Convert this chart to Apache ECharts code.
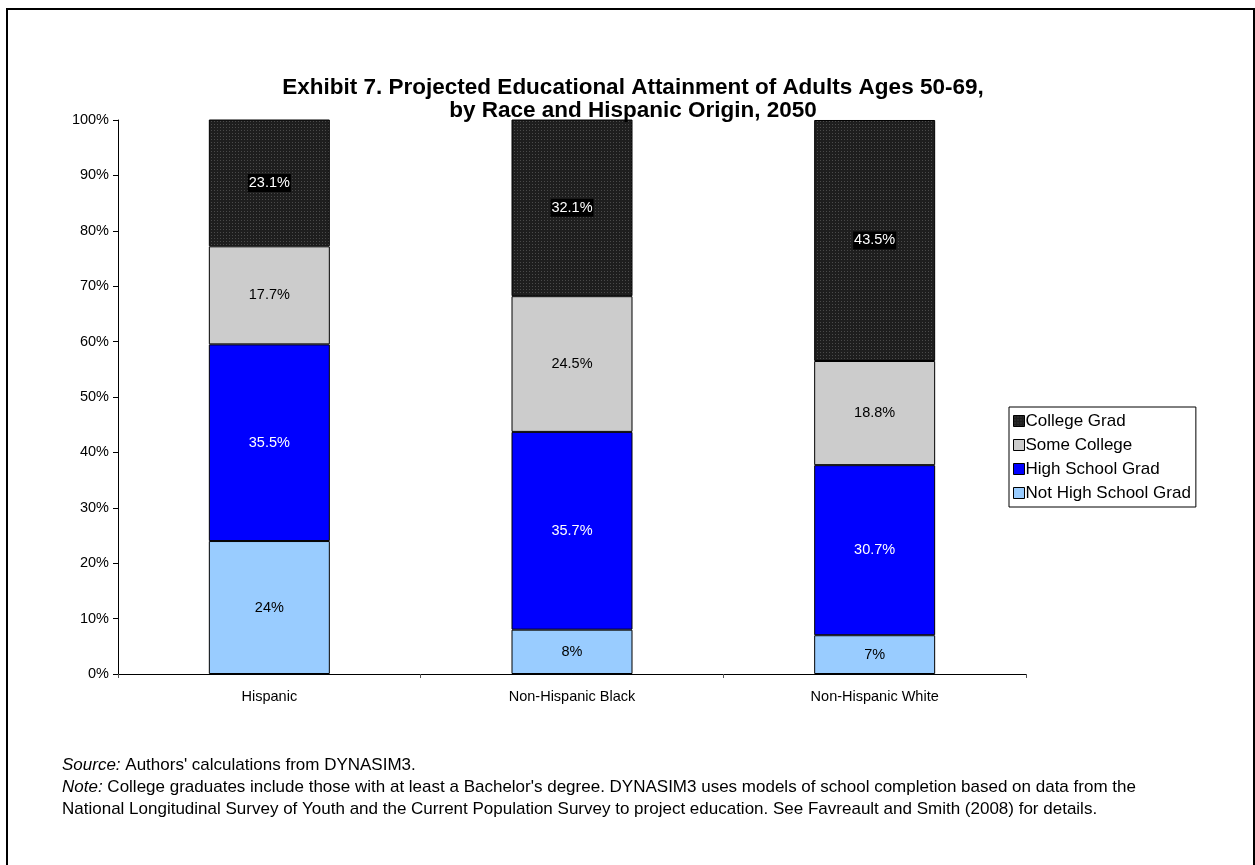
<!DOCTYPE html>
<html>
<head>
<meta charset="utf-8">
<script src="https://cdn.jsdelivr.net/npm/echarts@6/dist/echarts.min.js"></script>
<style>
html,body{margin:0;padding:0;background:#fff;}
#chart{width:1255px;height:865px;}
</style>
</head>
<body>
<div id="chart"></div>
<script>
var categories = ['Hispanic', 'Non-Hispanic Black', 'Non-Hispanic White'];
var seriesNames = ['Not High School Grad', 'High School Grad', 'Some College', 'College Grad'];
var notHighSchool = [24, 8, 7];
var highSchool = [35.5, 35.7, 30.7];
var someCollege = [17.7, 24.5, 18.8];
var collegeGrad = [23.1, 32.1, 43.5];
var yTicks = [0, 10, 20, 30, 40, 50, 60, 70, 80, 90, 100];

function makePattern(bg, dot) {
  var c = document.createElement('canvas');
  c.width = 3; c.height = 3;
  var ctx = c.getContext('2d');
  ctx.fillStyle = bg; ctx.fillRect(0, 0, 3, 3);
  ctx.fillStyle = dot; ctx.fillRect(1, 1, 1, 1);
  return c;
}
var darkPattern = { image: makePattern('#1e1e1e', '#4a4a4a'), repeat: 'repeat' };

var chart = echarts.init(document.getElementById('chart'), null, { renderer: 'canvas' });

var fonts = 'Liberation Sans, Arial, sans-serif';
var colors = ['#99ccff', '#0000ff', '#cccccc', darkPattern];
var labelColors = ['#000', '#fff', '#000', '#fff'];
var dataArrays = [notHighSchool, highSchool, someCollege, collegeGrad];

var series = seriesNames.map(function (name, i) {
  return {
    name: name,
    type: 'bar',
    stack: 'total',
    barWidth: 121,
    data: dataArrays[i],
    itemStyle: { color: colors[i], borderColor: '#000', borderWidth: 1 },
    label: {
      show: true,
      position: 'inside',
      formatter: function (p) { return p.value + '%'; },
      color: labelColors[i],
      fontFamily: fonts,
      fontSize: 14.5,
      backgroundColor: i === 3 ? '#000' : 'transparent',
      padding: i === 3 ? [2, 1, 1, 1] : 0
    }
  };
});

chart.setOption({
  animation: false,
  textStyle: { fontFamily: fonts },
  title: {
    text: 'Exhibit 7. Projected Educational Attainment of Adults Ages 50-69,\nby Race and Hispanic Origin, 2050',
    left: 628,
    textAlign: 'center',
    top: 71,
    textStyle: { fontFamily: fonts, fontSize: 22.5, fontWeight: 'bold', color: '#000', lineHeight: 23 }
  },
  legend: {
    data: ['College Grad', 'Some College', 'High School Grad', 'Not High School Grad'],
    orient: 'vertical',
    left: 1009,
    top: 407,
    padding: [5, 5, 5, 4],
    itemGap: 6,
    itemWidth: 11,
    itemHeight: 11,
    borderColor: '#000',
    borderWidth: 1,
    backgroundColor: '#fff',
    selectedMode: false,
    icon: 'rect',
    itemStyle: { borderColor: '#000', borderWidth: 1 },
    textStyle: { fontFamily: fonts, fontSize: 17, color: '#000', padding: [0, 0, 0, -4], lineHeight: 18 }
  },
  grid: { left: 118, top: 120, right: 229, bottom: 191, containLabel: false },
  xAxis: {
    type: 'category',
    data: categories,
    boundaryGap: true,
    axisLine: { lineStyle: { color: '#000', width: 1 } },
    axisTick: { show: true, alignWithLabel: false, length: 4, lineStyle: { color: '#555' } },
    axisLabel: { color: '#000', fontSize: 14.5, fontFamily: fonts, margin: 15 },
    splitLine: { show: false }
  },
  yAxis: {
    type: 'value',
    min: yTicks[0],
    max: yTicks[yTicks.length - 1],
    interval: 10,
    axisLine: { show: true, lineStyle: { color: '#000', width: 1 } },
    axisTick: { show: true, length: 5, lineStyle: { color: '#000' } },
    axisLabel: { color: '#000', fontSize: 14.5, fontFamily: fonts, margin: 9, formatter: '{value}%' },
    splitLine: { show: false }
  },
  series: series,
  graphic: [
    {
      type: 'rect',
      shape: { x: 7, y: 9, width: 1247, height: 880 },
      style: { fill: 'none', stroke: '#000', lineWidth: 2 },
      silent: true, z: 100
    },
    {
      type: 'text', left: 62, top: 757,
      style: {
        text: '{i|Source:} Authors\' calculations from DYNASIM3.',
        font: '17px ' + fonts, fill: '#000',
        rich: { i: { fontStyle: 'italic', fontSize: 17, fontFamily: fonts } }
      }
    },
    {
      type: 'text', left: 62, top: 779,
      style: {
        text: '{i|Note:} College graduates include those with at least a Bachelor\'s degree. DYNASIM3 uses models of school completion based on data from the',
        font: '17px ' + fonts, fill: '#000',
        rich: { i: { fontStyle: 'italic', fontSize: 17, fontFamily: fonts } }
      }
    },
    {
      type: 'text', left: 62, top: 801,
      style: {
        text: 'National Longitudinal Survey of Youth and the Current Population Survey to project education. See Favreault and Smith (2008) for details.',
        font: '17px ' + fonts, fill: '#000'
      }
    }
  ]
});
</script>
</body>
</html>
